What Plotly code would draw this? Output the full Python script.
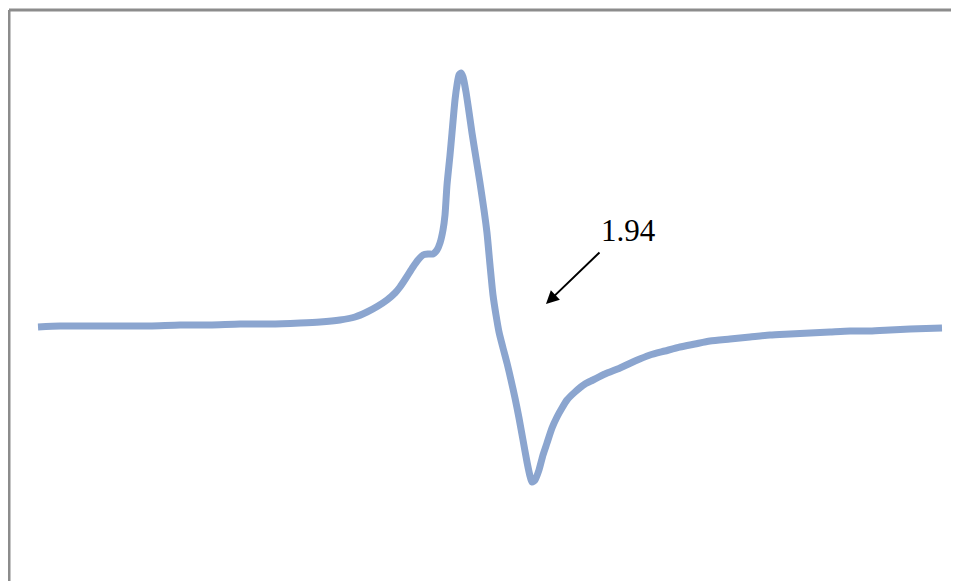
import plotly.graph_objects as go

# Magnetic field (arbitrary units) and first-derivative EPR signal (arbitrary units)
field = [38, 60, 90, 120, 150, 180, 210, 240, 270, 300, 320, 340, 355, 367, 378, 387, 395, 400,
         406, 413, 418, 423, 428, 433, 437, 440, 443, 445, 447, 450, 452, 455, 457, 459, 461, 463,
         466, 469, 472, 476, 480, 484, 487, 490, 493, 496, 499, 503, 507, 511, 515, 519, 523, 527,
         530, 532, 535, 539, 543, 547, 552, 557, 562, 567, 575, 585, 593, 605, 620, 635, 650, 665,
         680, 695, 710, 730, 750, 770, 790, 810, 830, 850, 870, 890, 910, 942]
pix = [327, 326, 326, 326, 326, 325, 325, 324, 324, 323, 322, 320, 317, 312, 306, 300, 293, 287,
       278, 267, 260, 255, 254, 254, 250, 243, 230, 215, 185, 155, 133, 100, 85, 75, 73, 77,
       92, 112, 133, 158, 183, 210, 233, 265, 295, 315, 332, 348, 363, 380, 398, 418, 440, 462,
       476, 482, 480, 470, 455, 443, 428, 417, 408, 400, 392, 384, 380, 374, 368, 361, 355, 351,
       347, 344, 341, 339, 337, 335, 334, 333, 332, 331, 331, 330, 329, 328]
intensity = [326 - p for p in pix]

g_label = "1.94"
g_text_pos = (628, 96)
arrow_head = (546, 22)
arrow_tail = (601, 75)

OFF = 8  # page body margin
W, H = 959 - OFF, 581 - OFF

fig = go.Figure()
fig.add_trace(go.Scatter(x=field, y=intensity, mode="lines",
                         line=dict(color="#8ba5cf", width=7, shape="spline", smoothing=0.6),
                         hoverinfo="skip", showlegend=False))

fig.add_annotation(x=arrow_head[0], y=arrow_head[1], ax=arrow_tail[0], ay=arrow_tail[1],
                   xref="x", yref="y", axref="x", ayref="y", text="",
                   showarrow=True, arrowhead=2, arrowsize=1.3, arrowwidth=2, arrowcolor="black")
fig.add_annotation(x=g_text_pos[0], y=g_text_pos[1], xref="x", yref="y", text=g_label,
                   showarrow=False, font=dict(family="Liberation Serif", size=31, color="black"))

# chart frame (only top and left edges visible inside the image)
fx = (9 - OFF) / W
fy = 1 - (10 - OFF) / H
fig.add_shape(type="line", xref="paper", yref="paper", x0=fx, x1=1.02, y0=fy, y1=fy,
              line=dict(color="#8c8c8c", width=3))
fig.add_shape(type="line", xref="paper", yref="paper", x0=fx, x1=fx, y0=-0.02, y1=fy,
              line=dict(color="#8c8c8c", width=3))

fig.update_layout(width=W, height=H, margin=dict(l=0, r=0, t=0, b=0),
                  paper_bgcolor="white", plot_bgcolor="white",
                  xaxis=dict(range=[OFF, 959], visible=False),
                  yaxis=dict(range=[326 - 581, 326 - OFF], visible=False))
fig.write_html("out.html")
